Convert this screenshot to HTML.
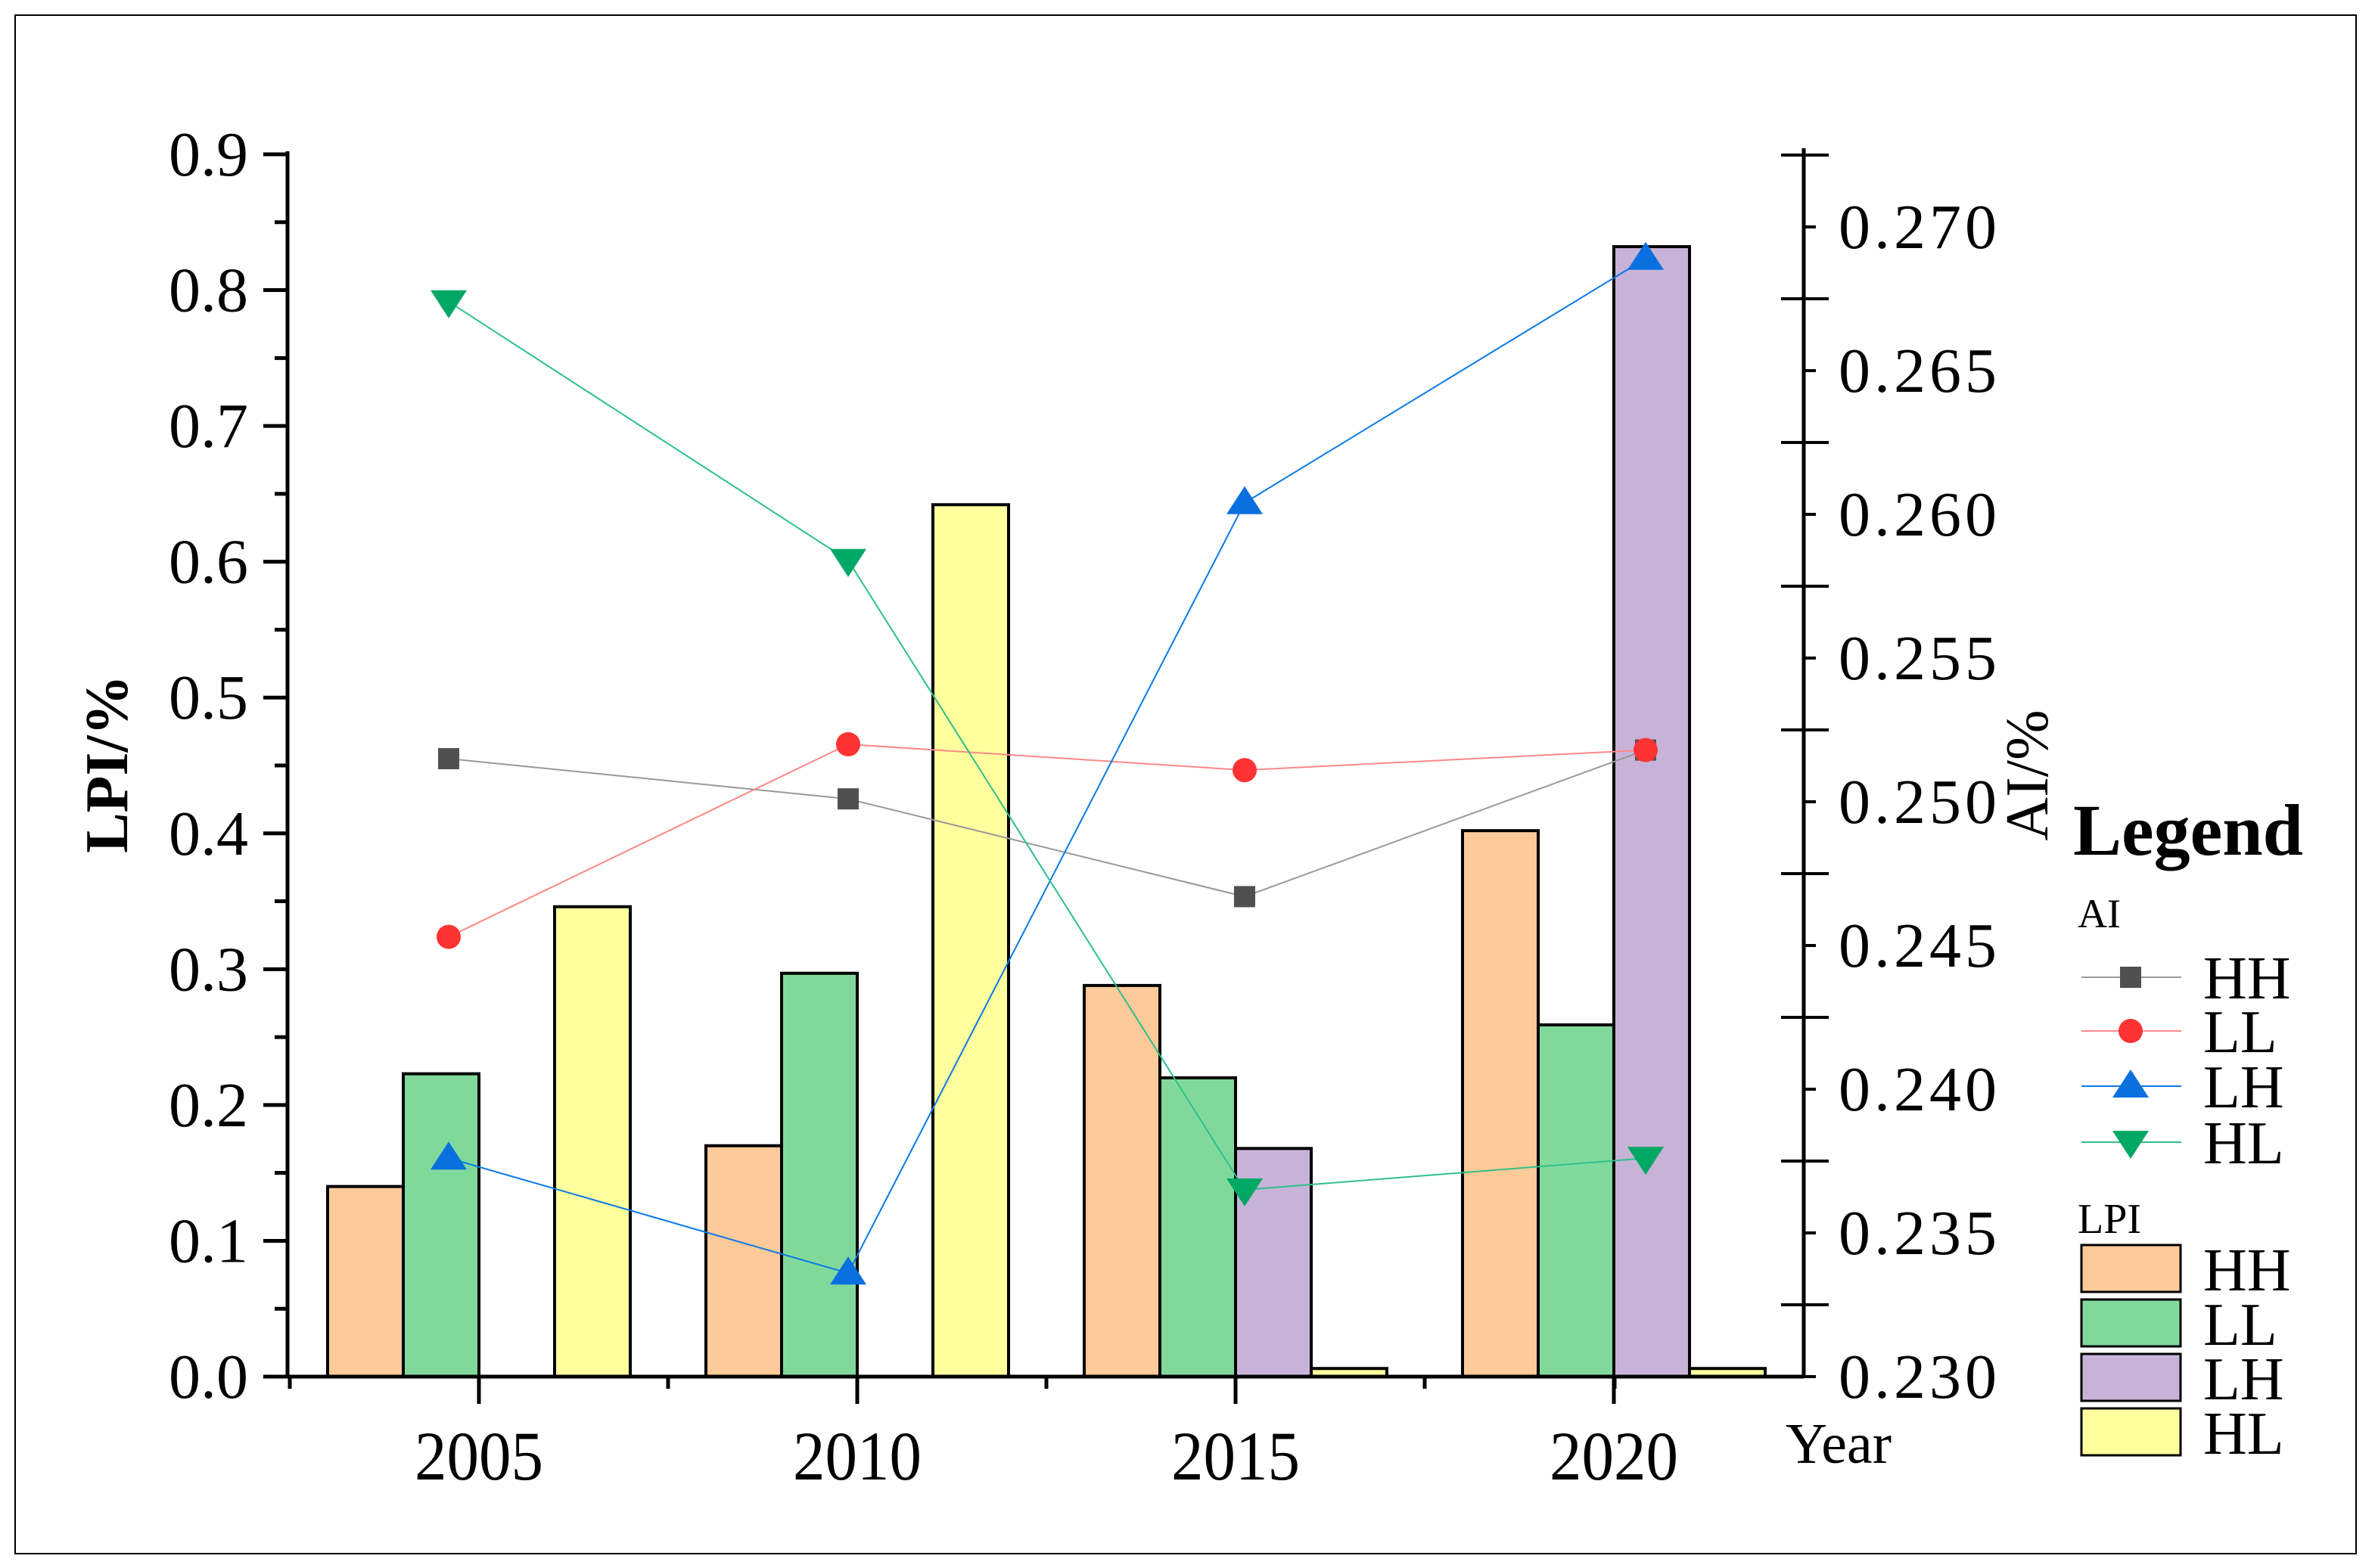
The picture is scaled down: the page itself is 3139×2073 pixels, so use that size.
<!DOCTYPE html>
<html><head><meta charset="utf-8"><style>
html,body{margin:0;padding:0;background:#fff}
svg{display:block}
svg text{font-family:"Liberation Serif","DejaVu Serif","Times New Roman",serif !important;fill:#000}
</style></head><body>
<svg id="chart" width="3139" height="2073" viewBox="0 0 3139 2073" xmlns="http://www.w3.org/2000/svg" font-family="Liberation Serif, DejaVu Serif, serif">
<rect x="20" y="20" width="3094" height="2034" fill="#fff" stroke="#000" stroke-width="2"/>
<g id="bars"></g><g id="lines"></g><g id="axes"></g><g id="legend"></g>
</svg>
<script>
const categories=["2005","2010","2015","2020"];
const lpiHH=[0.14,0.17,0.288,0.402];
const lpiLL=[0.223,0.297,0.22,0.259];
const lpiLH=[0,0,0.168,0.832];
const lpiHL=[0.346,0.642,0.006,0.006];
const aiHH=[0.2515,0.2501,0.2467,0.2518];
const aiLL=[0.2453,0.2520,0.2511,0.2518];
const aiLH=[0.2376,0.2336,0.2604,0.2689];
const aiHL=[0.2674,0.2584,0.2365,0.2376];
const leftTicks=["0.0","0.1","0.2","0.3","0.4","0.5","0.6","0.7","0.8","0.9"];
const rightTicks=["0.230","0.235","0.240","0.245","0.250","0.255","0.260","0.265","0.270"];

const NS="http://www.w3.org/2000/svg";
const FF="Liberation Serif, DejaVu Serif, serif";
function mk(tag,attrs,parent,txt){const e=document.createElementNS(NS,tag);for(const k in attrs)e.setAttribute(k,attrs[k]);if(tag==='text')e.setAttribute('font-family',FF);if(txt!==undefined)e.textContent=txt;parent.appendChild(e);return e;}
const X0=380,X1=2384,Y0=1820;
const xc=i=>633+i*500;
const yL=v=>Y0-v/0.9*(Y0-204);
const yR=v=>Y0-(v-0.230)/0.040*(Y0-300);
const gB=document.getElementById('bars'),gL=document.getElementById('lines'),gA=document.getElementById('axes'),gG=document.getElementById('legend');
const barSeries=[[lpiHH,"#FFCA99","hh"],[lpiLL,"#80D99B","ll"],[lpiLH,"#C8B3D8","lh"],[lpiHL,"#FFFF9E","hl"]];
barSeries.forEach((s,j)=>{s[0].forEach((v,i)=>{if(v<=0)return;const x=xc(i)-200+j*100;const y=yL(v);
const r=mk('rect',{x:x,y:y,width:100,height:Y0-y,fill:s[1],stroke:"#000","stroke-width":4},gB);

});});
const ptOff=[-40,-12,12,42];
const lineSeries=[[aiHH,"#999","#505050","sq","hh"],[aiLL,"#F88","#F33","ci","ll"],[aiLH,"#0A7AE6","#0A70E0","up","lh"],[aiHL,"#2DC08A","#00A865","dn","hl"]];
function marker(type,x,y,c,parent){
 if(type=="sq")return mk('rect',{x:x-14,y:y-14,width:28,height:28,fill:c},parent);
 if(type=="ci")return mk('circle',{cx:x,cy:y,r:16,fill:c},parent);
 if(type=="up")return mk('polygon',{points:`${x-24},${y+15} ${x+24},${y+15} ${x},${y-22}`,fill:c},parent);
 return mk('polygon',{points:`${x-24},${y-15} ${x+24},${y-15} ${x},${y+22}`,fill:c},parent);
}
lineSeries.forEach(s=>{const pts=s[0].map((v,i)=>[xc(i)+ptOff[i],yR(v)]);
 const p=mk('polyline',{points:pts.map(p=>p.join(',')).join(' '),fill:"none",stroke:s[1],"stroke-width":2},gL);
 
 
 pts.forEach((q,i)=>{const m=marker(s[3],q[0],q[1],s[2],gL);
 
 });});
mk('line',{x1:X0,y1:Y0,x2:X1,y2:Y0,stroke:"#000","stroke-width":5},gA);
mk('line',{x1:X0,y1:200,x2:X0,y2:Y0+2,stroke:"#000","stroke-width":5},gA);
mk('line',{x1:X1,y1:196,x2:X1,y2:Y0+2,stroke:"#000","stroke-width":5},gA);
leftTicks.forEach((t,i)=>{const y=yL(i*0.1);mk('line',{x1:X0-32,y1:y,x2:X0,y2:y,stroke:"#000","stroke-width":5},gA);
 if(i<9){const ym=yL(i*0.1+0.05);mk('line',{x1:X0-17,y1:ym,x2:X0,y2:ym,stroke:"#000","stroke-width":5},gA);}
 const e=mk('text',{x:328,y:y+28,"font-size":84,"text-anchor":"end"},gA,t);
 
 });
rightTicks.forEach((t,i)=>{const v=0.230+i*0.005;const y=yR(v);mk('line',{x1:X1,y1:y,x2:X1+16,y2:y,stroke:"#000","stroke-width":4},gA);
 const ym=yR(v+0.0025);mk('line',{x1:X1-30,y1:ym,x2:X1+33,y2:ym,stroke:"#000","stroke-width":4},gA);
 const e=mk('text',{x:2430,y:y+28,"font-size":84,"letter-spacing":5},gA,t);
 
 });
categories.forEach((c,i)=>{mk('line',{x1:xc(i),y1:Y0,x2:xc(i),y2:Y0+36,stroke:"#000","stroke-width":5},gA);
 mk('line',{x1:xc(i)-250,y1:Y0,x2:xc(i)-250,y2:Y0+16,stroke:"#000","stroke-width":5},gA);
 const e=mk('text',{x:xc(i),y:1956,"font-size":92,"text-anchor":"middle",textLength:170,lengthAdjust:"spacingAndGlyphs"},gA,c);
 
 });
mk('line',{x1:X1-250,y1:Y0,x2:X1-250,y2:Y0+16,stroke:"#000","stroke-width":5},gA);
let e=mk('text',{x:2360,y:1934,"font-size":76},gA,"Year");

e=mk('text',{x:0,y:0,"font-size":80,"font-weight":"bold","text-anchor":"middle",transform:"translate(168,1010) rotate(-90)"},gA,"LPI/%");

e=mk('text',{x:0,y:0,"font-size":80,"text-anchor":"middle",transform:"translate(2706,1025) rotate(-90)"},gA,"AI/%");

e=mk('text',{x:2740,y:1130,"font-size":96,"font-weight":"bold"},gG,"Legend");

e=mk('text',{x:2746,y:1226,"font-size":54},gG,"AI");

const rowY=[1292,1363,1436,1510];
lineSeries.forEach((s,i)=>{const y=rowY[i];mk('line',{x1:2751,y1:y,x2:2883,y2:y,stroke:s[1],"stroke-width":2},gG);
 marker(s[3],2816,y,s[2],gG);
 const t=mk('text',{x:2912,y:y+28,"font-size":80},gG,s[4].toUpperCase());
 
 });
e=mk('text',{x:2746,y:1630,"font-size":56},gG,"LPI");

barSeries.forEach((s,i)=>{const y=1646+i*72;mk('rect',{x:2751,y:y,width:131,height:62,fill:s[1],stroke:"#000","stroke-width":3},gG);
 const t=mk('text',{x:2912,y:y+60,"font-size":80},gG,s[2].toUpperCase());
 
 });
</script>
</body></html>
